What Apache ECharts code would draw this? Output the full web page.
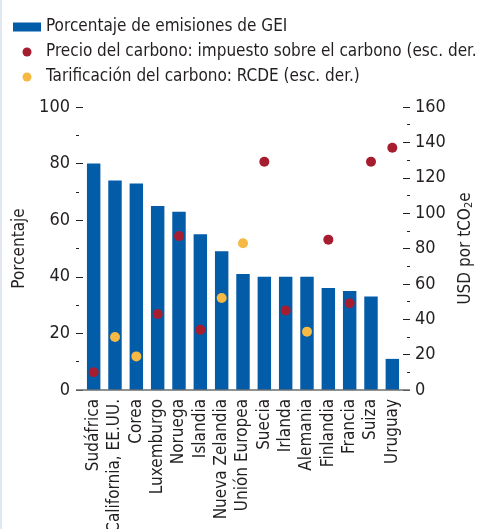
<!DOCTYPE html>
<html>
<head>
<meta charset="utf-8">
<script src="https://cdn.jsdelivr.net/npm/echarts@6/dist/echarts.min.js"></script>
<style>
html,body{margin:0;padding:0;background:#fff;}
#c{width:477px;height:529px;}
#edge{position:absolute;left:0;top:0;width:2px;height:529px;background:#e1e8f3;}
</style>
</head>
<body>
<div id="c"></div>
<div id="edge"></div>
<script>
const categories = ['Sudáfrica','California, EE.UU.','Corea','Luxemburgo','Noruega','Islandia','Nueva Zelandia','Unión Europea','Suecia','Irlanda','Alemania','Finlandia','Francia','Suiza','Uruguay'];
const emissionShare = [80,74,73,65,63,55,49,41,40,40,40,36,35,33,11];
const carbonTax = [10,null,null,43,87,34,null,null,129,45,null,85,49,129,137];
const etsPrice = [null,30,19,null,null,null,52,83,null,null,33,null,null,null,null];
const leftTicks = [0,20,40,60,80,100];
const rightTicks = [0,20,40,60,80,100,120,140,160];

const FONT = '"DejaVu Sans Condensed", "Liberation Sans Narrow", sans-serif';
const TXT = '#231f20';
const BLUE = '#035ca8', RED = '#a51d2f', YEL = '#f5b944';

const chart = echarts.init(document.getElementById('c'), null, {renderer:'canvas'});
const W = 477, H = 529;
const gridL = 83, gridR = 74, gridT = 107, gridB = 139;
const axisOff = 7;
chart.setOption({
  animation:false,
  backgroundColor:'#fff',
  textStyle:{fontFamily:FONT,color:TXT},
  legend:{
    orient:'vertical', left:13, top:18, padding:0, itemWidth:28, itemHeight:9, itemGap:7,
    textStyle:{fontFamily:FONT,fontSize:17,color:TXT,lineHeight:18},
    data:[
      {name:'Porcentaje de emisiones de GEI', icon:'rect'},
      {name:'Precio del carbono: impuesto sobre el carbono (esc. der.)', icon:'circle'},
      {name:'Tarificación del carbono: RCDE (esc. der.)', icon:'circle'}
    ]
  },
  graphic:[{
    type:'line', z:100, silent:true,
    shape:{x1:gridL-axisOff, y1:H-gridB, x2:W-gridR+axisOff, y2:H-gridB},
    style:{stroke:'#6d6e71', lineWidth:1.5}
  }],
  grid:{left:gridL,right:gridR,top:gridT,bottom:gridB,containLabel:false,outerBoundsMode:'none'},
  xAxis:{
    type:'category', data:categories,
    axisLine:{show:false},
    axisTick:{show:false},
    axisLabel:{rotate:90,margin:9,fontSize:17,color:TXT,fontFamily:FONT,interval:0}
  },
  yAxis:[
    {type:'value',min:0,max:100,interval:20,offset:axisOff,position:'left',
     name:'Porcentaje',nameLocation:'middle',nameRotate:90,nameGap:44,
     nameTextStyle:{fontSize:17,color:TXT,fontFamily:FONT},
     axisLine:{show:false},
     axisTick:{show:true,inside:true,length:7,lineStyle:{color:TXT,width:1}},
     minorTick:{show:true,splitNumber:2,length:3,lineStyle:{color:TXT,width:1}},
     splitLine:{show:false},
     axisLabel:{margin:6,fontSize:18,color:TXT,fontFamily:FONT,
       formatter:v=>leftTicks.includes(v)?String(v):''}
    },
    {type:'value',min:0,max:160,interval:20,offset:axisOff,position:'right',
     name:'USD por tCO{s|2}e',nameLocation:'middle',nameRotate:90,nameGap:41,
     nameTextStyle:{fontSize:17,color:TXT,fontFamily:FONT,
       rich:{s:{fontSize:11,color:TXT,fontFamily:FONT,verticalAlign:'bottom',padding:[8,0,0,0]}}},
     axisLine:{show:false},
     axisTick:{show:true,inside:true,length:7,lineStyle:{color:TXT,width:1}},
     minorTick:{show:true,splitNumber:2,length:3,lineStyle:{color:TXT,width:1}},
     splitLine:{show:false},
     axisLabel:{margin:5,fontSize:18,color:TXT,fontFamily:FONT,
       formatter:v=>rightTicks.includes(v)?String(v):''}
    }
  ],
  series:[
    {name:'Porcentaje de emisiones de GEI',type:'bar',data:emissionShare,barWidth:'63%',
     itemStyle:{color:BLUE},yAxisIndex:0},
    {name:'Precio del carbono: impuesto sobre el carbono (esc. der.)',type:'scatter',data:carbonTax,
     symbolSize:10,itemStyle:{color:RED,opacity:1},yAxisIndex:1},
    {name:'Tarificación del carbono: RCDE (esc. der.)',type:'scatter',data:etsPrice,
     symbolSize:10,itemStyle:{color:YEL,opacity:1},yAxisIndex:1}
  ]
});
</script>
</body>
</html>
